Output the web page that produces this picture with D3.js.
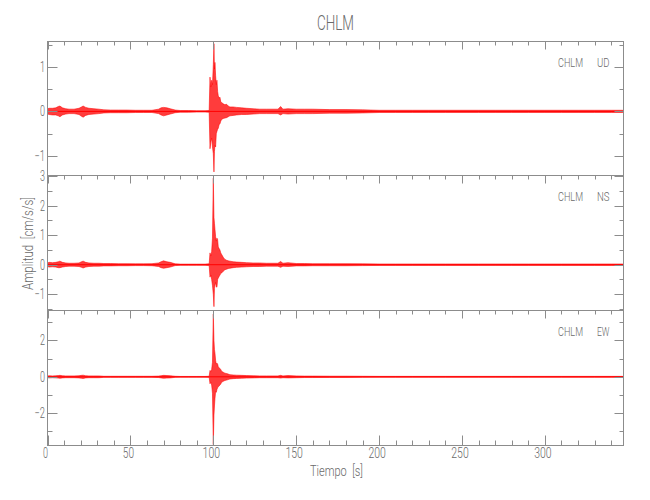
<!DOCTYPE html>
<html><head><meta charset="utf-8">
<script src="https://cdn.jsdelivr.net/npm/d3@7"></script>
<style>
body{margin:0;background:#fff}
text{font-family:Roboto,"DejaVu Sans Condensed","DejaVu Sans",sans-serif;font-weight:300;fill:#6a6a6a}
</style>
</head><body><svg id="c" width="650" height="500"></svg>
<script>
// ---- data ----
const station = "CHLM";
const components = ["UD", "NS", "EW"];
const times = [
  0,1,3,5,6.5,7.5,9,11,13,16,
  19,20.5,21.5,23,25,28,31,34,38,43,
  48,53,58,63,67,68.5,70,72,74,77,
  80,85,90,95,97.5,98,98.5,99,99.5,100,
  100.4,100.7,101,101.4,101.8,102.2,102.6,103,103.5,104,
  104.5,105,106,107,108,109,110,112,114,117,
  120,124,128,132,136,139,140.6,142,145,150,
  155,160,170,180,190,200,210,220,230,240,
  250,260,270,280,290,300,310,320,330,340,347];
const udHi = [
  0.06,0.07,0.07,0.08,0.11,0.12,0.08,0.06,0.05,0.05,
  0.07,0.10,0.12,0.09,0.07,0.06,0.05,0.035,0.03,0.03,
  0.03,0.025,0.025,0.025,0.05,0.08,0.09,0.08,0.06,0.03,
  0.02,0.02,0.015,0.015,0.02,0.77,0.55,0.70,0.60,1.05,
  1.52,0.95,1.10,0.80,0.60,0.70,0.45,0.35,0.30,0.32,
  0.22,0.20,0.17,0.15,0.16,0.12,0.10,0.10,0.09,0.08,
  0.07,0.06,0.05,0.05,0.05,0.05,0.11,0.05,0.06,0.05,
  0.05,0.05,0.04,0.04,0.035,0.025,0.025,0.025,0.025,0.025,
  0.025,0.025,0.025,0.025,0.025,0.025,0.025,0.025,0.025,0.025,0.025];
const udLo = [
  -0.06,-0.07,-0.08,-0.08,-0.10,-0.12,-0.08,-0.06,-0.05,-0.05,
  -0.07,-0.11,-0.13,-0.09,-0.07,-0.06,-0.05,-0.035,-0.03,-0.03,
  -0.03,-0.025,-0.025,-0.025,-0.05,-0.08,-0.10,-0.08,-0.06,-0.03,
  -0.02,-0.02,-0.015,-0.015,-0.02,-0.84,-0.70,-0.60,-0.80,-0.95,
  -1.36,-0.90,-0.76,-0.80,-0.50,-0.45,-0.40,-0.38,-0.30,-0.28,
  -0.22,-0.18,-0.16,-0.15,-0.14,-0.12,-0.10,-0.09,-0.08,-0.07,
  -0.07,-0.06,-0.05,-0.05,-0.05,-0.05,-0.08,-0.05,-0.06,-0.05,
  -0.05,-0.05,-0.04,-0.04,-0.035,-0.025,-0.025,-0.025,-0.025,-0.025,
  -0.025,-0.025,-0.025,-0.025,-0.025,-0.025,-0.025,-0.025,-0.025,-0.025,-0.025];
const nsHi = [
  0.06,0.08,0.07,0.08,0.10,0.12,0.08,0.06,0.05,0.05,
  0.06,0.10,0.12,0.08,0.06,0.05,0.05,0.04,0.04,0.035,
  0.035,0.03,0.03,0.035,0.06,0.10,0.13,0.10,0.08,0.03,
  0.02,0.02,0.02,0.02,0.03,0.40,0.30,0.45,0.90,2.93,
  1.60,1.40,1.20,0.95,0.80,0.90,0.85,0.60,0.55,0.50,
  0.40,0.35,0.25,0.18,0.15,0.13,0.12,0.10,0.09,0.08,
  0.07,0.06,0.06,0.05,0.05,0.05,0.11,0.05,0.07,0.04,
  0.04,0.035,0.035,0.035,0.03,0.025,0.025,0.025,0.025,0.025,
  0.025,0.025,0.025,0.025,0.025,0.025,0.025,0.025,0.025,0.025,0.025];
const nsLo = [
  -0.06,-0.08,-0.07,-0.08,-0.10,-0.10,-0.08,-0.06,-0.05,-0.05,
  -0.06,-0.09,-0.11,-0.08,-0.06,-0.05,-0.05,-0.04,-0.04,-0.035,
  -0.035,-0.03,-0.03,-0.035,-0.06,-0.10,-0.12,-0.10,-0.08,-0.03,
  -0.02,-0.02,-0.02,-0.02,-0.03,-0.42,-0.35,-0.50,-0.70,-1.00,
  -1.42,-0.80,-0.70,-0.60,-0.75,-0.76,-0.50,-0.45,-0.40,-0.35,
  -0.30,-0.28,-0.22,-0.17,-0.15,-0.13,-0.12,-0.10,-0.09,-0.08,
  -0.07,-0.06,-0.06,-0.05,-0.05,-0.05,-0.09,-0.05,-0.06,-0.04,
  -0.04,-0.035,-0.035,-0.035,-0.03,-0.025,-0.025,-0.025,-0.025,-0.025,
  -0.025,-0.025,-0.025,-0.025,-0.025,-0.025,-0.025,-0.025,-0.025,-0.025,-0.025];
const ewHi = [
  0.05,0.06,0.05,0.06,0.07,0.08,0.06,0.05,0.05,0.05,
  0.06,0.08,0.09,0.06,0.05,0.05,0.05,0.03,0.03,0.03,
  0.03,0.03,0.03,0.03,0.04,0.06,0.08,0.07,0.06,0.03,
  0.02,0.02,0.02,0.02,0.03,0.35,0.30,0.40,0.80,3.45,
  2.00,1.50,1.30,0.90,0.70,0.75,0.70,0.55,0.50,0.45,
  0.40,0.30,0.25,0.20,0.18,0.15,0.12,0.10,0.09,0.08,
  0.07,0.06,0.05,0.05,0.05,0.05,0.08,0.05,0.07,0.05,
  0.04,0.04,0.035,0.035,0.03,0.025,0.025,0.025,0.025,0.025,
  0.025,0.025,0.025,0.025,0.025,0.025,0.025,0.025,0.025,0.025,0.025];
const ewLo = [
  -0.05,-0.06,-0.05,-0.06,-0.07,-0.08,-0.06,-0.05,-0.05,-0.05,
  -0.06,-0.08,-0.09,-0.06,-0.05,-0.05,-0.05,-0.03,-0.03,-0.03,
  -0.03,-0.03,-0.03,-0.03,-0.04,-0.06,-0.08,-0.07,-0.06,-0.03,
  -0.02,-0.02,-0.02,-0.02,-0.03,-0.38,-0.30,-0.45,-0.90,-3.72,
  -2.10,-1.60,-1.20,-0.80,-0.85,-0.70,-0.60,-0.55,-0.50,-0.45,
  -0.40,-0.30,-0.25,-0.20,-0.18,-0.15,-0.12,-0.10,-0.09,-0.08,
  -0.07,-0.06,-0.05,-0.05,-0.05,-0.05,-0.07,-0.05,-0.06,-0.05,
  -0.04,-0.04,-0.035,-0.035,-0.03,-0.025,-0.025,-0.025,-0.025,-0.025,
  -0.025,-0.025,-0.025,-0.025,-0.025,-0.025,-0.025,-0.025,-0.025,-0.025,-0.025];
const xTicks = [0, 50, 100, 150, 200, 250, 300];
const udTicks = [-1, 0, 1];
const nsTicks = [-1, 0, 1, 2, 3];
const ewTicks = [-2, 0, 2];
const xDomain = [0, 347.4];
const udDomain = [-1.44, 1.57];
const nsDomain = [-1.55, 3.02];
const ewDomain = [-3.77, 3.64];

// ---- layout ----
const svg = d3.select("#c");
const L = 47.5, R = 623.5;
const panels = [
  {comp: components[0], hi: udHi, lo: udLo, ticks: udTicks, dom: udDomain, minor: 0.5, top: 41.5, bot: 175.5},
  {comp: components[1], hi: nsHi, lo: nsLo, ticks: nsTicks, dom: nsDomain, minor: 0.5, top: 175.5, bot: 310.5},
  {comp: components[2], hi: ewHi, lo: ewLo, ticks: ewTicks, dom: ewDomain, minor: 1, top: 310.5, bot: 445.5}
];
const x = d3.scaleLinear().domain(xDomain).range([L, R]);
const xMinor = d3.range(0, xDomain[1], 10);
const axisCol = "#8c8c8c";

// narrow (Hershey-like) text: squeeze glyphs to a target width
function squeeze(sel, w) {
  sel.attr("textLength", w).attr("lengthAdjust", "spacingAndGlyphs");
  return sel;
}
function numText(g, s) {
  const t = g.append("text").text(s);
  const n = s.replace("\u2212", "").length;
  squeeze(t, n * 6.2 - 1.2 + (s.startsWith("\u2212") ? 5.5 : 0));
  return t;
}

panels.forEach((p, i) => {
  const y = d3.scaleLinear().domain(p.dom).range([p.bot, p.top]);
  const g = svg.append("g");
  // trace envelope
  const area = d3.area()
    .x((d, k) => x(times[k]))
    .y0((d, k) => y(p.lo[k]))
    .y1((d, k) => y(p.hi[k]));
  g.append("path").datum(times).attr("d", area)
    .attr("fill", "#ff1a1a").attr("stroke", "#ff0000").attr("stroke-width", 0.6)
    .attr("stroke-opacity", 0.9).attr("fill-opacity", 0.85);
  g.append("line").attr("x1", L).attr("x2", R).attr("y1", y(0)).attr("y2", y(0))
    .attr("stroke", "#ff0000").attr("stroke-width", 1);

  // frame
  g.append("rect").attr("x", L).attr("y", p.top).attr("width", R - L).attr("height", p.bot - p.top)
    .attr("fill", "none").attr("stroke", axisCol).attr("stroke-width", 1);

  // y ticks
  const yMinor = d3.range(Math.ceil(p.dom[0] / p.minor) * p.minor, p.dom[1] + 1e-9, p.minor);
  yMinor.forEach(v => {
    const major = p.ticks.some(t => Math.abs(t - v) < 1e-9);
    const yy = Math.round(y(v)) + 0.5;
    g.append("line").attr("x1", L).attr("x2", L + (major ? 10 : 5)).attr("y1", yy).attr("y2", yy)
      .attr("stroke", axisCol);
    g.append("line").attr("x1", R).attr("x2", R - (major ? 9 : 4)).attr("y1", yy).attr("y2", yy)
      .attr("stroke", axisCol);
  });
  p.ticks.forEach(v => {
    numText(g, String(v).replace("-", "\u2212"))
      .attr("x", 45).attr("y", y(v)).attr("dy", "0.36em")
      .attr("text-anchor", "end").attr("font-size", 14);
  });

  // top x ticks (inward)
  xMinor.forEach(v => {
    const major = v % 50 === 0;
    const xx = Math.round(x(v)) + 0.5;
    g.append("line").attr("x1", xx).attr("x2", xx).attr("y1", p.top).attr("y2", p.top + (major ? 8 : 4))
      .attr("stroke", axisCol);
  });

  // component label
  squeeze(g.append("text").attr("x", 558).attr("y", p.top + 25).attr("font-size", 13).text(station), 25);
  squeeze(g.append("text").attr("x", 597).attr("y", p.top + 25).attr("font-size", 13).text(p.comp), 12.5);

  if (i === panels.length - 1) {
    xMinor.forEach(v => {
      const major = v % 50 === 0;
      const xx = Math.round(x(v)) + 0.5;
      g.append("line").attr("x1", xx).attr("x2", xx).attr("y1", p.bot).attr("y2", p.bot - (major ? 10 : 5))
        .attr("stroke", axisCol);
    });
    xTicks.forEach(v => {
      numText(g, String(v)).attr("x", x(v) - 2).attr("y", 458).attr("text-anchor", "middle")
        .attr("font-size", 14);
    });
  }
});

// titles
squeeze(svg.append("text").attr("x", 335.5).attr("y", 30).attr("text-anchor", "middle")
  .attr("font-size", 21).text(station), 37);
squeeze(svg.append("text").attr("x", 336.5).attr("y", 476).attr("text-anchor", "middle")
  .attr("font-size", 14).attr("xml:space", "preserve").text("Tiempo  [s]"), 53);
squeeze(svg.append("text").attr("transform", "translate(33,243.5) rotate(-90)").attr("text-anchor", "middle")
  .attr("font-size", 14).attr("xml:space", "preserve").text("Amplitud  [cm/s/s]"), 93);
</script>
</body></html>
